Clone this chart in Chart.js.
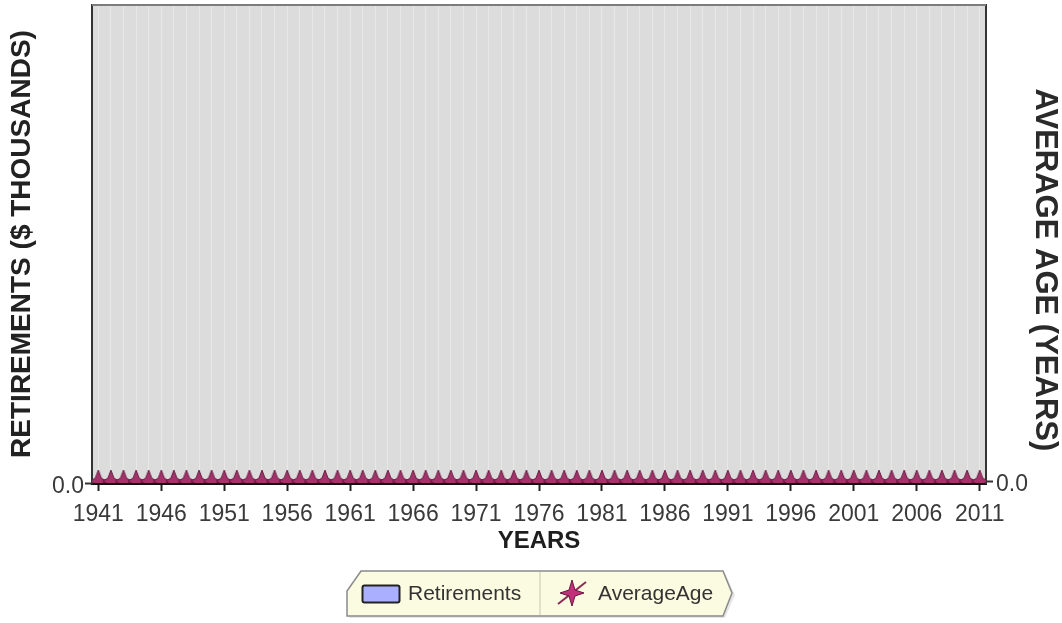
<!DOCTYPE html>
<html>
<head>
<meta charset="utf-8">
<script src="https://cdn.jsdelivr.net/npm/chart.js@4.4.1/dist/chart.umd.min.js"></script>
<style>
html, body { margin: 0; padding: 0; background: #fff; }
#wrap { position: relative; width: 1062px; height: 623px; }
#legend { position: absolute; left: 346px; top: 570px; width: 390px; height: 49px;
  font-family: 'Liberation Sans', Arial, sans-serif; font-size: 21px; color: #333; }
#legend svg { position: absolute; left: 0; top: 0; }
#legend span { position: absolute; top: 11px; line-height: 24px; white-space: nowrap; }
</style>
</head>
<body>
<div id="wrap">
  <canvas id="chart" width="1062" height="623"></canvas>
  <div id="legend"></div>
</div>
<script>
'use strict';

//chart data
var years = [
    '1941','1942','1943','1944','1945','1946','1947','1948','1949','1950',
    '1951','1952','1953','1954','1955','1956','1957','1958','1959','1960',
    '1961','1962','1963','1964','1965','1966','1967','1968','1969','1970',
    '1971','1972','1973','1974','1975','1976','1977','1978','1979','1980',
    '1981','1982','1983','1984','1985','1986','1987','1988','1989','1990',
    '1991','1992','1993','1994','1995','1996','1997','1998','1999','2000',
    '2001','2002','2003','2004','2005','2006','2007','2008','2009','2010',
    '2011'
]
var retirements = [
    0,0,0,0,0,0,0,0,0,0,
    0,0,0,0,0,0,0,0,0,0,
    0,0,0,0,0,0,0,0,0,0,
    0,0,0,0,0,0,0,0,0,0,
    0,0,0,0,0,0,0,0,0,0,
    0,0,0,0,0,0,0,0,0,0,
    0,0,0,0,0,0,0,0,0,0,
    0
]
var averageAge = [
    0,0,0,0,0,0,0,0,0,0,
    0,0,0,0,0,0,0,0,0,0,
    0,0,0,0,0,0,0,0,0,0,
    0,0,0,0,0,0,0,0,0,0,
    0,0,0,0,0,0,0,0,0,0,
    0,0,0,0,0,0,0,0,0,0,
    0,0,0,0,0,0,0,0,0,0,
    0
]
var seriesNames = ['Retirements', 'AverageAge']
var yTickLabel = '0.0'
var labelEvery = 5

var fontFamily = "'Liberation Sans', Arial, sans-serif"

//4 point star used as marker
function makeStar() {
    let c = document.createElement('canvas')
    c.width = 18
    c.height = 24
    let g = c.getContext('2d')
    let cx = 9, cy = 12
    g.beginPath()
    g.moveTo(cx, cy - 11)
    g.lineTo(cx + 3, cy - 3)
    g.lineTo(cx + 8, cy)
    g.lineTo(cx + 3, cy + 3)
    g.lineTo(cx, cy + 11)
    g.lineTo(cx - 3, cy + 3)
    g.lineTo(cx - 8, cy)
    g.lineTo(cx - 3, cy - 3)
    g.closePath()
    g.fillStyle = '#a3336a'
    g.fill()
    g.strokeStyle = '#6a1840'
    g.lineWidth = 1
    g.stroke()
    return c
}

//grey plot background and top frame line
var plotFrame = {
    id: 'plotFrame',
    beforeDraw: function(chart) {
        let a = chart.chartArea
        let ctx = chart.ctx
        ctx.save()
        ctx.fillStyle = '#dcdcdc'
        ctx.fillRect(a.left, a.top, a.right - a.left, a.bottom - a.top)
        ctx.restore()
    },
    afterDraw: function(chart) {
        let a = chart.chartArea
        let ctx = chart.ctx
        ctx.save()
        ctx.strokeStyle = '#7c7c7c'
        ctx.lineWidth = 2
        ctx.beginPath()
        ctx.moveTo(a.left, a.top)
        ctx.lineTo(a.right, a.top)
        ctx.stroke()
        ctx.restore()
    }
}

function onlyZero(scale) {
    scale.ticks = [{ value: 0 }]
}

//fixed axis sizes, and no extra room for the single tick label
function fitLeft(s) { s.width = 92; s.paddingTop = 0; s.paddingBottom = 0 }
function fitRight(s) { s.width = 76; s.paddingTop = 0; s.paddingBottom = 0 }

var config = {
    type: 'bar',
    data: {
        labels: years,
        datasets: [{
            type: 'line',
            label: seriesNames[1],
            data: averageAge,
            yAxisID: 'y1',
            borderColor: '#5a1434',
            borderWidth: 3,
            pointStyle: makeStar(),
            pointRadius: 9,
            clip: 0,
            order: 0
        }, {
            label: seriesNames[0],
            data: retirements,
            yAxisID: 'y',
            backgroundColor: '#aab0ff',
            borderColor: '#222',
            borderWidth: 1,
            order: 1
        }]
    },
    options: {
        responsive: false,
        animation: false,
        layout: { autoPadding: false, padding: { top: 5, bottom: 65, left: 0, right: 0 } },
        plugins: {
            legend: { display: false },
            tooltip: { enabled: false }
        },
        scales: {
            x: {
                type: 'category',
                offset: true,
                afterFit: function(s) { s.height = 75 },
                grid: {
                    offset: false,
                    drawOnChartArea: true,
                    color: 'rgba(255,255,255,0.35)',
                    lineWidth: 1,
                    tickLength: 8,
                    tickWidth: 2,
                    tickColor: function(c) { return c.index % labelEvery === 0 ? '#222' : 'rgba(0,0,0,0)' }
                },
                border: { color: '#111', width: 3 },
                ticks: {
                    autoSkip: false,
                    maxRotation: 0,
                    padding: 10,
                    color: '#3a3a3a',
                    font: { family: fontFamily, size: 23 },
                    callback: function(v, i) { return i % labelEvery === 0 ? years[i] : '' }
                },
                title: {
                    display: true,
                    text: 'YEARS',
                    color: '#1e1e1e',
                    font: { family: fontFamily, size: 24, weight: 'bold' },
                    padding: { top: 0, bottom: 2 }
                }
            },
            y: {
                position: 'left',
                min: 0,
                max: 1,
                afterFit: fitLeft,
                afterBuildTicks: onlyZero,
                grid: { drawOnChartArea: false, tickLength: 7, tickWidth: 2, tickColor: '#333' },
                border: { color: '#333', width: 2 },
                ticks: {
                    padding: 1,
                    labelOffset: 4,
                    color: '#3a3a3a',
                    font: { family: fontFamily, size: 23 },
                    callback: function() { return yTickLabel }
                },
                title: {
                    display: true,
                    text: 'RETIREMENTS ($ THOUSANDS)',
                    color: '#222',
                    font: { family: fontFamily, size: 28, weight: 'bold', lineHeight: 1 },
                    padding: { top: 8, bottom: 0 }
                }
            },
            y1: {
                position: 'right',
                min: -0.004,
                max: 1,
                afterFit: fitRight,
                afterBuildTicks: onlyZero,
                grid: { drawOnChartArea: false, tickLength: 7, tickWidth: 2, tickColor: '#333' },
                border: { color: '#333', width: 2 },
                ticks: {
                    padding: 3,
                    labelOffset: 4,
                    color: '#3a3a3a',
                    font: { family: fontFamily, size: 23 },
                    callback: function() { return yTickLabel }
                },
                title: {
                    display: true,
                    text: '\u00a0\u00a0\u00a0\u00a0\u00a0\u00a0AVERAGE AGE (YEARS)',
                    color: '#2a2a2a',
                    font: { family: fontFamily, size: 31, weight: 'bold', lineHeight: 1 },
                    padding: { top: 2, bottom: 0 }
                }
            }
        }
    },
    plugins: [plotFrame]
}

var chart = new Chart(document.getElementById('chart'), config)

//legend box below the chart
function buildLegend() {
    let box = document.getElementById('legend')
    box.innerHTML =
        '<svg width="390" height="49">' +
        '<polygon points="2,47 378,47 388,24 378,2 16,2 2,22" fill="#e6e6e6" transform="translate(1,1)"/>' +
        '<polygon points="1,46 377,46 386,23 377,1 15,1 1,21" fill="#fbfbe1" stroke="#8a8a8a" stroke-width="1.5"/>' +
        '<line x1="194" y1="2" x2="194" y2="45" stroke="#d8d8c0" stroke-width="1.5"/>' +
        '<rect x="16.5" y="15.5" width="37" height="17" rx="2" fill="#aab0ff" stroke="#222" stroke-width="2"/>' +
        '<line x1="212" y1="34" x2="240" y2="12" stroke="#8a2a55" stroke-width="2"/>' +
        '<polygon points="226,10 229,20 238,23 229,26 226,36 223,26 214,23 223,20" fill="#c2307a" stroke="#6a1840" stroke-width="1"/>' +
        '</svg>'
    let s1 = document.createElement('span')
    s1.style.left = '62px'
    s1.textContent = seriesNames[0]
    let s2 = document.createElement('span')
    s2.style.left = '252px'
    s2.textContent = seriesNames[1]
    box.appendChild(s1)
    box.appendChild(s2)
}
buildLegend()
</script>
</body>
</html>
